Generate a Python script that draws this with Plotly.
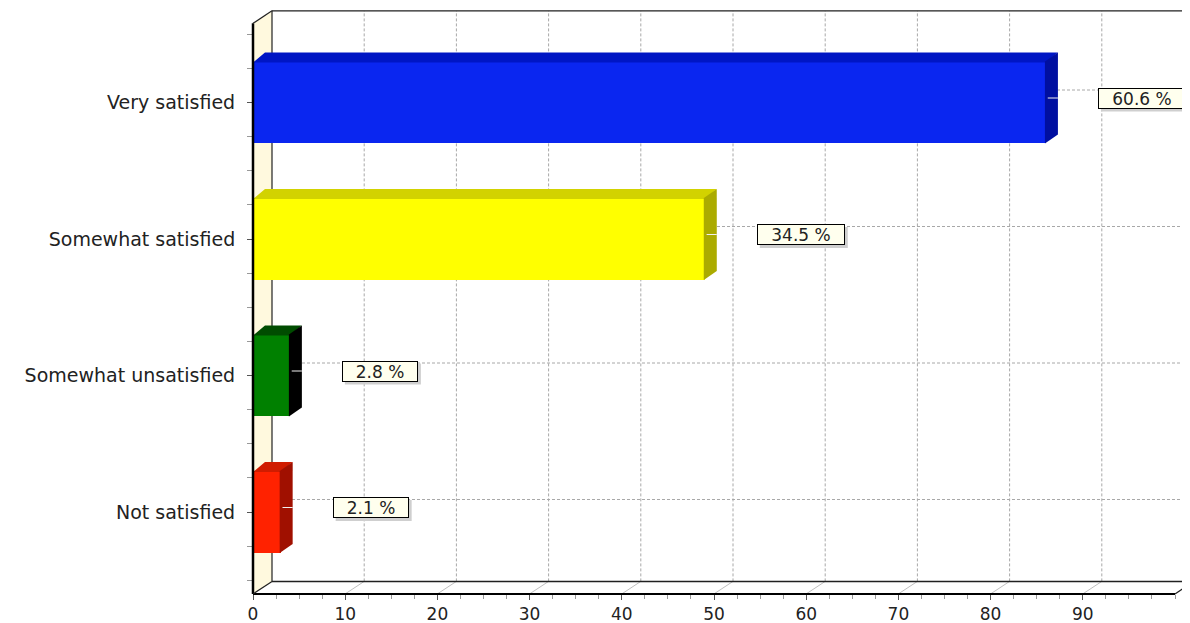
import plotly.graph_objects as go

# data (top to bottom as drawn)
categories = ["Very satisfied", "Somewhat satisfied", "Somewhat unsatisfied", "Not satisfied"]
counts = [86, 49, 4, 3]
x_ticks = [0, 10, 20, 30, 40, 50, 60, 70, 80, 90]

front_colors = ["#0A26F0", "#FFFF00", "#008000", "#FF2200"]
top_colors = ["#0016C4", "#D2D200", "#004C00", "#D01C00"]
side_colors = ["#000FA0", "#ABAB00", "#000000", "#A01000"]

total = sum(counts)
pcts = [c / total * 100 for c in counts]

# the page body has an 8px margin, so work in page pixels minus that
OFF = 8
W, H = 1190 - OFF, 623 - OFF
X0_PX = 253 - OFF   # where value 0 sits
Y0_PX = 512 - OFF   # where the bottom category sits
XAX_PX = 594 - OFF  # front bottom axis line

PX_X = 9.22     # px per value unit
PX_Y = 136.5    # px per category
X_MAX = 100
Y_LO, Y_HI = -0.6, 3.58          # front frame extent
WX, WY = 19 / PX_X, 12.5 / PX_Y  # wall depth
BX, BY = 12 / PX_X, 9 / PX_Y     # bar depth
BAR_W = 0.6

n = len(categories)
ypos = [n - 1 - i for i in range(n)]  # top category gets highest index

fig = go.Figure()
fig.add_trace(go.Bar(
    x=counts, y=ypos, base=0, orientation="h", width=BAR_W,
    marker=dict(color=front_colors, line=dict(width=0)),
    hoverinfo="skip", showlegend=False,
))

shapes = []
grid = dict(color="#A8A8A8", width=1, dash="3px,2px")

# left wall
shapes.append(dict(type="path", layer="below",
                   path=f"M0,{Y_LO} L0,{Y_HI} L{WX},{Y_HI + WY} L{WX},{Y_LO + WY} Z",
                   fillcolor="#FFF9DE", line=dict(width=0)))
# back wall grid
for v in x_ticks[1:]:
    shapes.append(dict(type="line", layer="below", x0=v + WX, x1=v + WX,
                       y0=Y_LO + WY, y1=Y_HI + WY, line=grid))
    shapes.append(dict(type="line", layer="below", x0=v, x1=v + WX,
                       y0=Y_LO, y1=Y_LO + WY, line=dict(color="#C0C0C0", width=1)))
for y in ypos:
    shapes.append(dict(type="line", layer="below", x0=WX, x1=X_MAX + WX + 5,
                       y0=y + WY, y1=y + WY, line=grid))
# back wall frame
frame = dict(color="#202020", width=1.2)
shapes.append(dict(type="line", layer="below", x0=WX, x1=X_MAX + WX + 5,
                   y0=Y_HI + WY, y1=Y_HI + WY, line=frame))
shapes.append(dict(type="line", layer="below", x0=WX, x1=WX,
                   y0=Y_LO + WY, y1=Y_HI + WY, line=frame))
shapes.append(dict(type="line", layer="below", x0=WX, x1=X_MAX + WX,
                   y0=Y_LO + WY, y1=Y_LO + WY, line=dict(color="#202020", width=1.5)))

# bar 3d faces (overlap the front face by a pixel to hide seams)
ex, ey = 1 / PX_X, 1 / PX_Y
for y, v, tc, sc in zip(ypos, counts, top_colors, side_colors):
    top = y + BAR_W / 2
    bot = y - BAR_W / 2
    shapes.append(dict(type="path", layer="above",
                       path=f"M0,{top - ey} L{v},{top - ey} L{v + BX},{top + BY} L{BX},{top + BY} Z",
                       fillcolor=tc, line=dict(width=0)))
    shapes.append(dict(type="path", layer="above",
                       path=f"M{v - ex},{bot} L{v - ex},{top} L{v + BX},{top + BY} L{v + BX},{bot + BY} Z",
                       fillcolor=sc, line=dict(width=0)))
    shapes.append(dict(type="line", layer="above", x0=v + 0.2, x1=v + BX,
                       y0=y + BY / 2, y1=y + BY / 2, line=dict(color="#F0F0F0", width=1)))

# front frame
shapes.append(dict(type="line", x0=0, x1=0, y0=Y_LO, y1=Y_HI, line=dict(color="#000000", width=2.5)))
shapes.append(dict(type="line", x0=0, x1=X_MAX, y0=Y_LO, y1=Y_LO, line=dict(color="#000000", width=2)))
for x0, y0 in [(0, Y_HI), (0, Y_LO), (X_MAX, Y_LO)]:
    shapes.append(dict(type="line", x0=x0, x1=x0 + WX, y0=y0, y1=y0 + WY,
                       line=dict(color="#202020", width=1.2)))

# value labels, with a grey drop shadow drawn as a pixel-sized shape
annotations = []
lab_font = dict(family="DejaVu Sans", size=17, color="#222222")
BOX_H = 17
for y, v, p in zip(ypos, counts, pcts):
    txt = f"{p:.1f} %"
    box_w = 12 * len(txt) + 12
    lx = v + BX + 40 / PX_X
    ly = y + 4.5 / PX_Y
    full_w, full_h = box_w + 4, BOX_H + 4
    shapes.append(dict(type="rect", layer="above", xref="x", yref="y",
                       xsizemode="pixel", ysizemode="pixel", xanchor=lx, yanchor=ly,
                       x0=3, x1=full_w + 3, y0=-full_h / 2 - 3, y1=full_h / 2 - 3,
                       fillcolor="#CFCFCF", line=dict(width=0)))
    annotations.append(dict(x=lx, y=ly, xref="x", yref="y", text=txt, showarrow=False,
                            xanchor="left", yanchor="middle", width=box_w, height=BOX_H,
                            align="center", valign="middle", borderpad=1, borderwidth=1,
                            font=lab_font, bgcolor="#FFFFEE", bordercolor="#000000"))

L, R, T, B = 240 - OFF, 0, 0, 20
plot_w, plot_h = W - L - R, H - T - B

tick_font = dict(family="DejaVu Sans", size=19, color="#222222")
fig.update_layout(
    width=W, height=H,
    margin=dict(l=L, r=R, t=T, b=B),
    plot_bgcolor="white", paper_bgcolor="white",
    shapes=shapes, annotations=annotations,
    xaxis=dict(
        range=[(L - X0_PX) / PX_X, (W - R - X0_PX) / PX_X],
        anchor="free", position=(H - B - XAX_PX) / plot_h, side="bottom",
        tickmode="array", tickvals=x_ticks,
        ticks="outside", ticklen=5, tickcolor="#555555",
        minor=dict(dtick=2.5, ticks="outside", ticklen=4, tickcolor="#999999"),
        showgrid=False, zeroline=False, showline=False, automargin=False,
        tickfont=dict(tick_font, size=17),
    ),
    yaxis=dict(
        range=[-(H - B - Y0_PX) / PX_Y, (Y0_PX - T) / PX_Y],
        anchor="free", position=(X0_PX - L) / plot_w, side="left",
        tickmode="array", tickvals=ypos, ticktext=categories,
        ticks="outside", ticklen=6, tickcolor="#555555", ticklabelstandoff=8,
        minor=dict(tickmode="array", tickvals=[i / 4 for i in range(-2, 15)],
                   ticks="outside", ticklen=6, tickcolor="#999999"),
        showgrid=False, zeroline=False, showline=False, automargin=False,
        tickfont=tick_font,
    ),
    bargap=0,
)

fig.write_html("out.html")
